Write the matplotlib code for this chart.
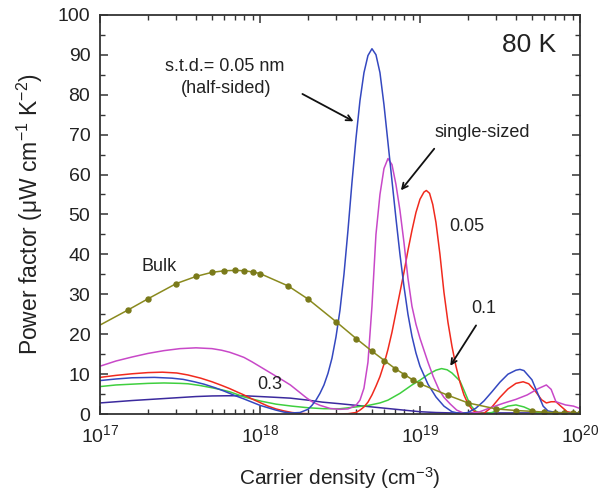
import matplotlib
matplotlib.use('Agg')
import matplotlib.pyplot as plt
import numpy as np
from matplotlib.ticker import MultipleLocator, LogLocator

plt.rcParams['font.family'] = ['Liberation Sans', 'DejaVu Sans']
plt.rcParams['mathtext.fontset'] = 'custom'
plt.rcParams['mathtext.rm'] = 'Liberation Sans'
plt.rcParams['mathtext.it'] = 'Liberation Sans:italic'
plt.rcParams['mathtext.default'] = 'regular'

# carrier density given as log10(n / cm^-3), power factor in uW cm^-1 K^-2

# bulk: computed points (drawn as dots)
bulk_logn = [17.0, 17.176, 17.301, 17.477, 17.602, 17.699, 17.778, 17.845, 17.903, 17.954,
             18.0, 18.176, 18.301, 18.477, 18.602, 18.699, 18.778, 18.845, 18.903, 18.954,
             19.0, 19.176, 19.301, 19.477, 19.602, 19.699, 19.778, 19.845, 19.903, 19.954, 20.0]
bulk_pf = [22.3, 26.1, 28.9, 32.7, 34.5, 35.5, 35.9, 36.0, 35.9, 35.6,
           35.2, 32.1, 28.8, 23.1, 18.9, 15.8, 13.4, 11.4, 9.9, 8.6,
           7.6, 4.7, 2.8, 1.3, 0.9, 0.7, 0.5, 0.4, 0.3, 0.25, 0.2]

# s.t.d. = 0.05 nm, half-sided
half_logn = [17.0, 17.1, 17.2, 17.34, 17.45, 17.52, 17.59, 17.65, 17.72, 17.78, 17.84,
             17.9, 17.95, 18.0, 18.05, 18.1, 18.15, 18.2, 18.25, 18.3, 18.325, 18.35,
             18.375, 18.4, 18.425, 18.45, 18.475, 18.5, 18.525, 18.55, 18.575, 18.6,
             18.625, 18.65, 18.675, 18.7, 18.725, 18.75, 18.775, 18.8, 18.825, 18.85,
             18.875, 18.9, 18.925, 18.95, 18.975, 19.0, 19.05, 19.1, 19.15, 19.2, 19.25,
             19.3, 19.35, 19.4, 19.45, 19.5, 19.55, 19.6, 19.625, 19.65, 19.7, 19.74,
             19.77, 19.8, 19.85, 20.0]
half_pf = [8.4, 8.8, 9.1, 9.2, 9.0, 8.7, 8.1, 7.5, 6.6, 5.7, 4.7,
           3.8, 3.0, 2.2, 1.6, 1.0, 0.5, 0.3, 0.4, 1.2, 2.2, 3.5,
           5.2, 7.3, 10.2, 14.0, 19.3, 26.0, 35.0, 46.0, 58.0, 69.0,
           78.5, 85.5, 89.8, 91.5, 90.0, 85.5, 77.5, 68.0, 58.5, 49.0,
           40.0, 32.0, 25.0, 19.5, 15.3, 12.0, 7.5, 4.3, 2.0, 0.6, 0.15,
           0.4, 1.5, 3.3, 5.6, 8.0, 10.0, 11.0, 11.2, 10.9, 8.6, 4.8,
           2.0, 0.8, 0.4, 0.3]

# single-sized
single_logn = [17.0, 17.1, 17.2, 17.3, 17.4, 17.5, 17.6, 17.7, 17.76, 17.81, 17.86,
               17.9, 17.95, 18.0, 18.05, 18.1, 18.15, 18.19, 18.24, 18.29, 18.33,
               18.375, 18.44, 18.5, 18.55, 18.6, 18.625, 18.65, 18.675, 18.7, 18.725,
               18.75, 18.775, 18.8, 18.825, 18.85, 18.875, 18.9, 18.925, 18.95, 18.975,
               19.0, 19.05, 19.083, 19.12, 19.15, 19.19, 19.23, 19.27, 19.32, 19.375,
               19.44, 19.52, 19.6, 19.67, 19.74, 19.79, 19.82, 19.85, 19.91, 19.96, 20.0]
single_pf = [12.0, 13.3, 14.3, 15.2, 15.9, 16.4, 16.6, 16.4, 16.0, 15.5, 14.8,
             14.2, 13.1, 11.9, 10.7, 9.5, 8.3, 7.3, 5.7, 4.1, 3.0,
             2.2, 1.4, 1.2, 1.3, 2.2, 3.5, 6.5, 13.0, 27.0, 45.0,
             55.0, 61.5, 64.0, 62.5, 57.5, 51.0, 43.0, 34.0, 27.0, 22.5,
             19.0, 13.0, 9.4, 6.0, 4.2, 2.5, 1.0, 0.3, 0.2, 0.6,
             1.6, 2.7, 3.7, 4.8, 6.4, 7.3, 6.2, 3.1, 2.3, 2.0, 1.4]

# s.t.d. = 0.05 nm
s005_logn = [17.0, 17.1, 17.2, 17.3, 17.39, 17.48, 17.55, 17.63, 17.7, 17.76, 17.81,
             17.86, 17.9, 17.95, 18.0, 18.05, 18.1, 18.15, 18.2, 18.25, 18.3, 18.45,
             18.55, 18.6, 18.625, 18.65, 18.675, 18.7, 18.725, 18.75, 18.775, 18.8,
             18.825, 18.85, 18.875, 18.9, 18.925, 18.95, 18.975, 19.0, 19.025, 19.04,
             19.06, 19.08, 19.1, 19.125, 19.15, 19.175, 19.2, 19.225, 19.25, 19.275,
             19.3, 19.33, 19.37, 19.4, 19.45, 19.5, 19.55, 19.6, 19.645, 19.68, 19.72,
             19.76, 19.79, 19.82, 19.85, 19.88, 19.92, 19.96, 20.0]
s005_pf = [9.2, 9.7, 10.1, 10.4, 10.5, 10.3, 9.8, 9.0, 8.1, 7.2, 6.4,
           5.5, 4.8, 3.8, 2.9, 2.0, 1.3, 0.8, 0.4, 0.2, 0.1, 0.05,
           0.1, 0.4, 1.0, 1.8, 3.0, 4.8, 7.0, 9.4, 12.5, 16.2,
           20.5, 25.5, 30.5, 35.5, 41.0, 46.0, 50.5, 53.8, 55.6, 56.0,
           55.3, 52.5, 48.0, 40.0, 30.5, 23.0, 17.0, 12.0, 8.0, 4.8,
           2.6, 0.9, 0.2, 0.2, 1.8, 4.2, 6.3, 7.7, 8.1, 7.6, 5.8,
           3.6, 2.8, 3.1, 3.1, 2.0, 0.6, 0.3, 0.3]

# s.t.d. = 0.1 nm
s01_logn = [17.0, 17.1, 17.2, 17.3, 17.4, 17.5, 17.55, 17.62, 17.7, 17.76, 17.81,
            17.86, 17.9, 17.95, 18.0, 18.1, 18.2, 18.3, 18.4, 18.5, 18.6, 18.68,
            18.75, 18.8, 18.875, 18.95, 19.0, 19.05, 19.1, 19.135, 19.17, 19.2,
            19.225, 19.25, 19.275, 19.3, 19.325, 19.35, 19.4, 19.45, 19.5, 19.55,
            19.6, 19.65, 19.7, 19.75, 19.8, 20.0]
s01_pf = [6.9, 7.3, 7.5, 7.7, 7.8, 7.7, 7.6, 7.2, 6.6, 6.1, 5.6,
          4.9, 4.3, 3.8, 3.3, 2.5, 2.0, 1.6, 1.35, 1.35, 1.8, 2.2,
          2.8, 3.5, 5.2, 7.3, 8.5, 9.9, 11.0, 11.4, 11.1, 10.3,
          9.3, 8.3, 6.0, 3.6, 1.8, 0.7, 0.15, 0.4, 1.2, 2.0,
          2.3, 1.8, 0.9, 0.3, 0.1, 0.1]

# s.t.d. = 0.3 nm
s03_logn = [17.0, 17.1, 17.2, 17.3, 17.4, 17.5, 17.6, 17.7, 17.8, 17.9, 18.0,
            18.1, 18.19, 18.3, 18.39, 18.5, 18.6, 18.75, 18.9, 19.0, 19.1, 19.2,
            19.6, 20.0]
s03_pf = [2.8, 3.1, 3.4, 3.65, 3.9, 4.15, 4.4, 4.55, 4.6, 4.6, 4.4,
          4.2, 4.0, 3.5, 3.0, 2.6, 2.2, 1.6, 1.0, 0.6, 0.4, 0.3,
          0.3, 0.3]


def dens(logn):
    return 10.0 ** np.asarray(logn)


fig = plt.figure(figsize=(6.06, 4.93), dpi=100)
ax = fig.add_axes([0.165, 0.160, 0.792, 0.810])

lw = 1.1
ax.plot(dens(s03_logn), s03_pf, color='#3b2a9e', lw=lw)
ax.plot(dens(s01_logn), s01_pf, color='#3fcf3f', lw=lw)
ax.plot(dens(s005_logn), s005_pf, color='#f02a1e', lw=lw)
ax.plot(dens(single_logn), single_pf, color='#c848c8', lw=lw)
ax.plot(dens(half_logn), half_pf, color='#3448c0', lw=lw)
ax.plot(dens(bulk_logn), bulk_pf, color='#8a8a1e', lw=lw,
        marker='o', ms=3.6, mfc='#7a7a1a', mec='#7a7a1a', markevery=slice(1, None))

ax.set_xscale('log')
ax.set_xlim(1e17, 1e20)
ax.set_ylim(0, 100)
ax.yaxis.set_major_locator(MultipleLocator(10))
ax.yaxis.set_minor_locator(MultipleLocator(5))
ax.xaxis.set_minor_locator(LogLocator(base=10, subs=np.arange(2, 10)))

ax.tick_params(which='both', direction='in', top=True, right=True,
               colors='#333333', labelcolor='#222222', labelsize=14)
ax.tick_params(which='major', length=6, width=1.1)
ax.tick_params(which='minor', length=3.5, width=1.0)
ax.tick_params(axis='x', which='major', pad=7)
ax.tick_params(axis='y', which='major', pad=7)
for sp in ax.spines.values():
    sp.set_linewidth(1.3)
    sp.set_color('#333333')

ax.set_xlabel('Carrier density (cm$^{-3}$)', fontsize=15, color='#222222', labelpad=14)
ax.set_ylabel('Power factor (μW cm$^{-1}$ K$^{-2}$)', fontsize=16.5, color='#222222',
              labelpad=9)

tc = '#222222'
ax.text(0.95, 0.925, '80 K', transform=ax.transAxes, ha='right', va='center',
        fontsize=19, color=tc)
ax.text(10 ** 17.78, 87, 's.t.d.= 0.05 nm', ha='center', va='center', fontsize=13, color=tc)
ax.text(10 ** 17.79, 81.5, '(half-sided)', ha='center', va='center', fontsize=13, color=tc)
ax.annotate('', xy=(10 ** 18.60, 73), xytext=(10 ** 18.25, 80.5),
            arrowprops=dict(arrowstyle='->', color='#111111', lw=1.3))
ax.text(10 ** 19.39, 70.5, 'single-sized', ha='center', va='center', fontsize=13, color=tc)
ax.annotate('', xy=(10 ** 18.87, 55.5), xytext=(10 ** 19.1, 67),
            arrowprops=dict(arrowstyle='->', color='#111111', lw=1.3))
ax.text(10 ** 19.29, 47, '0.05', ha='center', va='center', fontsize=13, color=tc)
ax.text(10 ** 19.4, 26.5, '0.1', ha='center', va='center', fontsize=13, color=tc)
ax.annotate('', xy=(10 ** 19.18, 11.5), xytext=(10 ** 19.36, 22.8),
            arrowprops=dict(arrowstyle='->', color='#111111', lw=1.3))
ax.text(10 ** 18.06, 7.3, '0.3', ha='center', va='center', fontsize=13, color=tc)
ax.text(10 ** 17.37, 37.0, 'Bulk', ha='center', va='center', fontsize=13, color=tc)

fig.savefig('out.png', dpi=100)
